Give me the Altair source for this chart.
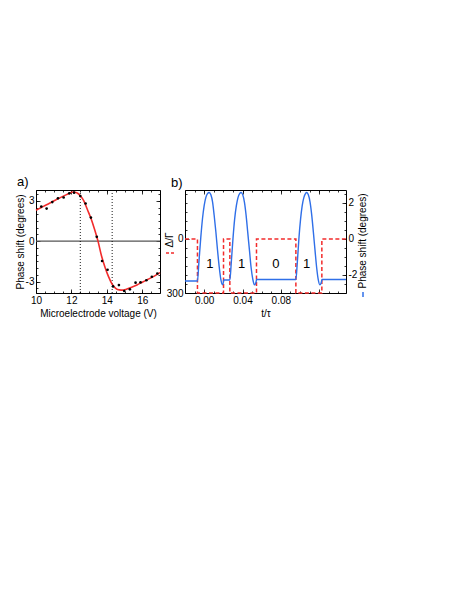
import altair as alt
import pandas as pd

# ---------------- Panel a data ----------------
meas_voltage = [10.3, 10.6, 10.92, 11.24, 11.56, 11.88, 12.15, 12.5, 12.8, 13.1, 13.43,
                13.73, 14.04, 14.35, 14.68, 14.98, 15.3, 15.62, 15.9, 16.23, 16.54, 16.85]
meas_phase = [2.57, 2.42, 2.9, 3.18, 3.24, 3.55, 3.6, 3.35, 2.8, 1.75, 0.32,
              -1.47, -2.12, -3.36, -3.26, -3.7, -3.58, -3.08, -3.06, -2.9, -2.64, -2.4]

fit_voltage = [10.0, 10.3, 10.6, 11.0, 11.4, 11.8, 12.1, 12.3, 12.5, 12.7, 12.9, 13.1,
               13.3, 13.5, 13.7, 13.9, 14.1, 14.3, 14.5, 14.7, 14.9, 15.1, 15.4, 15.7,
               16.0, 16.3, 16.6, 17.0]
fit_phase = [2.3, 2.5, 2.7, 2.98, 3.25, 3.5, 3.65, 3.6, 3.38, 3.0, 2.35, 1.7,
             0.9, 0.0, -1.1, -1.95, -2.65, -3.2, -3.5, -3.62, -3.64, -3.57, -3.42, -3.25,
             -3.05, -2.85, -2.65, -2.33]

marker_voltage = [12.5, 14.3]

# ---------------- Panel b data ----------------
step_t = [-0.02, -0.007, 0.0202, 0.0268, 0.0546, 0.0957, 0.1228, 0.148]
step_detuning = [0, 300, 0, 300, 0, 300, 0, 0]

signal_t = [-0.02, -0.007, -0.0055, -0.0035, -0.0017, 0.0, 0.0017, 0.0035, 0.0052, 0.007,
            0.0087, 0.0104, 0.0122, 0.0139, 0.0157, 0.0174, 0.0191, 0.0200, 0.0203,
            0.0268, 0.0283, 0.0301, 0.0318, 0.0336, 0.0353, 0.0370, 0.0386, 0.0403,
            0.0420, 0.0438, 0.0455, 0.0473, 0.0490, 0.0508, 0.0525, 0.0540, 0.0547,
            0.0957, 0.0972, 0.0989, 0.1006, 0.1023, 0.1040, 0.1057, 0.1070, 0.1087,
            0.1105, 0.1123, 0.1140, 0.1157, 0.1174, 0.1190, 0.1207, 0.1222, 0.1229, 0.148]
signal_phase = [-2.33, -2.33, -1.3, 0.1, 1.15, 1.85, 2.3, 2.52, 2.58, 2.45,
                2.07, 1.33, 0.4, -0.6, -1.55, -2.25, -2.55, -2.42, -2.28,
                -2.28, -1.3, 0.05, 1.1, 1.85, 2.3, 2.52, 2.58, 2.45,
                2.05, 1.3, 0.35, -0.65, -1.6, -2.25, -2.55, -2.42, -2.25,
                -2.25, -1.3, 0.05, 1.1, 1.85, 2.3, 2.52, 2.58, 2.45,
                2.05, 1.3, 0.35, -0.65, -1.6, -2.25, -2.55, -2.42, -2.25, -2.25]

bit_t = [0.006, 0.039, 0.0748, 0.107]
bit_label = ["1", "1", "0", "1"]
bit_phase = [-1.4, -1.4, -1.4, -1.4]

RED = "#f22b2b"
BLUE = "#2f6fe8"
FONT = "Liberation Sans"
HYPHEN = "replace(datum.label, '\u2212', '-')"

# ---------------- helpers ----------------
def ax(orient, values, size=4, labels=False, **kw):
    return alt.Axis(orient=orient, values=values, labels=labels, ticks=True,
                    tickSize=size, offset=-size, domain=False, grid=False,
                    tickColor="black", tickWidth=0.8, labelFlush=False,
                    labelOverlap=False, labelPadding=2, **kw)

def frange(a, b, step):
    out = []
    v = a
    while v <= b + 1e-9:
        out.append(round(v, 6))
        v += step
    return out

# ---------------- Panel a ----------------
WA, HA = 124, 103
xa = alt.Scale(domain=[10, 17], nice=False, zero=False)
ya = alt.Scale(domain=[-3.85, 3.8], nice=False, zero=False)

df_fit = pd.DataFrame({"v": fit_voltage, "p": fit_phase})
df_meas = pd.DataFrame({"v": meas_voltage, "p": meas_phase})
df_mark = pd.DataFrame({"v": marker_voltage})
df_zero = pd.DataFrame({"p": [0]})

xa_major = [10, 12, 14, 16]
xa_minor = frange(10, 17, 0.5)
ya_major = [-3, 0, 3]
ya_minor = frange(-3.5, 3.5, 0.5)

fit = alt.Chart(df_fit).mark_line(color=RED, strokeWidth=1.6, interpolate="monotone").encode(
    x=alt.X("v:Q", scale=xa, axis=ax("bottom", xa_major, labels=True,
                                      title="Microelectrode voltage (V)", titlePadding=3)),
    y=alt.Y("p:Q", scale=ya, axis=ax("left", ya_major, labels=True, labelExpr=HYPHEN,
                                      title="Phase shift (degrees)", titlePadding=0)),
)
pts = alt.Chart(df_meas).mark_circle(color="black", size=7, opacity=1).encode(
    x=alt.X("v:Q", scale=xa, axis=ax("bottom", xa_minor, size=2, title=None)),
    y=alt.Y("p:Q", scale=ya, axis=ax("left", ya_minor, size=2, title=None)),
)
zero = alt.Chart(df_zero).mark_rule(color="#555555", strokeWidth=1.1).encode(
    y=alt.Y("p:Q", scale=ya, axis=ax("right", ya_major, title=None)),
)
dots = alt.Chart(df_mark).mark_rule(color="black", strokeWidth=0.9, strokeDash=[1, 2]).encode(
    x=alt.X("v:Q", scale=xa, axis=ax("top", xa_major, title=None)),
)
ghost_a = alt.Chart(df_meas).mark_circle(opacity=0).encode(
    x=alt.X("v:Q", scale=xa, axis=ax("top", xa_minor, size=2, title=None)),
    y=alt.Y("p:Q", scale=ya, axis=ax("right", ya_minor, size=2, title=None)),
)

panel_a = alt.layer(zero, dots, fit, pts, ghost_a).resolve_axis(
    x="independent", y="independent"
).properties(
    width=WA, height=HA,
    title=alt.TitleParams("a)", anchor="start", frame="bounds", offset=0, dx=2,
                          fontSize=13, fontWeight="normal", font=FONT),
)

# ---------------- Panel b ----------------
WB, HB = 161, 103
xb = alt.Scale(domain=[-0.02, 0.148], nice=False, zero=False)
yb_left = alt.Scale(domain=[300, -272], nice=False, zero=False)
yb_right = alt.Scale(domain=[-3.0, 2.72], nice=False, zero=False)

df_step = pd.DataFrame({"t": step_t, "d": step_detuning})
df_sig = pd.DataFrame({"t": signal_t, "p": signal_phase})
df_bits = pd.DataFrame({"t": bit_t, "p": bit_phase, "b": bit_label})
df_one = pd.DataFrame({"k": [0]})

xb_major = [0.0, 0.04, 0.08, 0.12]
xb_minor = frange(-0.02, 0.14, 0.01)
yl_major = [0, 300]
yl_minor = frange(-250, 300, 50)
yr_major = [-2, 0, 2]
yr_minor = frange(-3.0, 2.5, 0.5)

red = alt.Chart(df_step).mark_line(color=RED, strokeWidth=1.5, strokeDash=[4, 2.5],
                                   interpolate="step-after").encode(
    x=alt.X("t:Q", scale=xb, axis=ax("bottom", xb_major, labels=True, format=".2f",
                                      labelExpr="datum.value > 0.1 ? '' : datum.label",
                                      title="t/τ", titlePadding=3)),
    y=alt.Y("d:Q", scale=yb_left, axis=ax("left", yl_major, labels=True, title=None)),
)
blue = alt.Chart(df_sig).mark_line(color=BLUE, strokeWidth=1.4, interpolate="monotone").encode(
    x=alt.X("t:Q", scale=xb, axis=ax("top", xb_major, title=None)),
    y=alt.Y("p:Q", scale=yb_right, axis=ax("right", yr_major, labels=True,
                                            labelExpr=HYPHEN, title=None)),
)
bits = alt.Chart(df_bits).mark_text(fontSize=13, font=FONT, color="black",
                                    baseline="middle", align="center").encode(
    x=alt.X("t:Q", scale=xb, axis=ax("bottom", xb_minor, size=2, title=None)),
    y=alt.Y("p:Q", scale=yb_right, axis=ax("right", yr_minor, size=2, title=None)),
    text="b:N",
)
ghost_b = alt.Chart(df_step).mark_circle(opacity=0).encode(
    x=alt.X("t:Q", scale=xb, axis=ax("top", xb_minor, size=2, title=None)),
    y=alt.Y("d:Q", scale=yb_left, axis=ax("left", yl_minor, size=2, title=None)),
)
left_title = alt.Chart(df_one).mark_text(text="Δ/Γ", angle=270, fontSize=10, font=FONT,
                                         color="black", align="center", baseline="middle").encode(
    x=alt.value(-15), y=alt.value(50))
left_swatch = alt.Chart(df_one).mark_rule(color=RED, strokeWidth=1.5, strokeDash=[3, 2]).encode(
    x=alt.value(-19), x2=alt.value(-9), y=alt.value(63))
right_title = alt.Chart(df_one).mark_text(text="Phase shift (degrees)", angle=270, fontSize=10,
                                          font=FONT, color="black", align="center",
                                          baseline="middle").encode(
    x=alt.value(WB + 17), y=alt.value(51))
right_swatch = alt.Chart(df_one).mark_rule(color=BLUE, strokeWidth=1.5).encode(
    x=alt.value(WB + 17), y=alt.value(102), y2=alt.value(107))

panel_b = alt.layer(red, blue, bits, ghost_b, left_title, left_swatch, right_title,
                    right_swatch).resolve_scale(y="independent").resolve_axis(
    x="independent", y="independent"
).properties(
    width=WB, height=HB,
    title=alt.TitleParams("b)", anchor="start", frame="bounds", offset=0, dx=6,
                          fontSize=13, fontWeight="normal", font=FONT),
)

chart = alt.hconcat(panel_a, panel_b, spacing=0).properties(
    padding={"left": 6, "top": 167, "right": 5, "bottom": 5}
).configure_view(stroke="black", strokeWidth=1).configure_axis(
    labelFont=FONT, titleFont=FONT, labelFontSize=10, titleFontSize=10,
    labelColor="black", titleColor="black", titleFontWeight="normal"
)

chart.save("out.html", embed_options={"renderer": "svg", "actions": False})
